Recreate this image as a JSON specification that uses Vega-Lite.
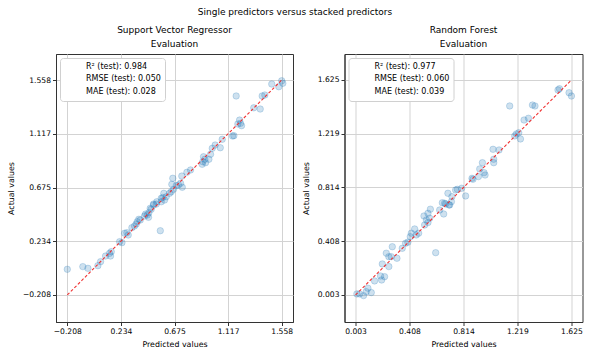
{
  "$schema": "https://vega.github.io/schema/vega-lite/v6.json",
  "padding": {"left": 6, "top": 8, "right": 5, "bottom": 3},
  "background": "white",
  "title": {"text": "Single predictors versus stacked predictors", "fontSize": 9, "font": "DejaVu Sans", "fontWeight": "normal", "color": "#000", "anchor": "middle", "frame": "bounds", "offset": 8},
  "config": {
    "font": "DejaVu Sans",
    "view": {"stroke": "#333", "strokeWidth": 1},
    "axis": {
      "labelFont": "DejaVu Sans", "labelFontSize": 7.6, "labelColor": "#000",
      "titleFont": "DejaVu Sans", "titleFontSize": 7.9, "titleFontWeight": "normal", "titleColor": "#000",
      "tickColor": "#333", "tickSize": 3.5, "labelPadding": 2,
      "domainColor": "#333", "gridColor": "#d3d3d3", "gridWidth": 1, "titlePadding": 5
    },
    "axisY": {"titlePadding": 7},
    "title": {"font": "DejaVu Sans", "fontSize": 9, "fontWeight": "normal", "color": "#000", "lineHeight": 14.5, "offset": 5}
  },
  "datasets": {
    "svr": [
      {"predicted": 1.558, "actual": 1.552}, {"predicted": 1.476, "actual": 1.525}, {"predicted": 1.534, "actual": 1.503}, {"predicted": 1.567, "actual": 1.531},
      {"predicted": 1.183, "actual": 1.427}, {"predicted": 1.397, "actual": 1.427}, {"predicted": 1.419, "actual": 1.435}, {"predicted": 1.328, "actual": 1.330},
      {"predicted": 1.381, "actual": 1.320}, {"predicted": 1.211, "actual": 1.229}, {"predicted": 1.219, "actual": 1.202}, {"predicted": 1.197, "actual": 1.197},
      {"predicted": 1.227, "actual": 1.183}, {"predicted": 1.153, "actual": 1.098}, {"predicted": 1.164, "actual": 1.101}, {"predicted": 1.068, "actual": 1.071},
      {"predicted": 1.010, "actual": 1.024}, {"predicted": 0.986, "actual": 0.997}, {"predicted": 1.052, "actual": 1.002}, {"predicted": 0.972, "actual": 0.948},
      {"predicted": 0.914, "actual": 0.928}, {"predicted": 0.925, "actual": 0.907}, {"predicted": 0.958, "actual": 0.907}, {"predicted": 0.908, "actual": 0.887},
      {"predicted": 0.903, "actual": 0.866}, {"predicted": 0.931, "actual": 0.879}, {"predicted": 0.807, "actual": 0.819}, {"predicted": 0.777, "actual": 0.800},
      {"predicted": 0.735, "actual": 0.769}, {"predicted": 0.661, "actual": 0.751}, {"predicted": 0.653, "actual": 0.701}, {"predicted": 0.708, "actual": 0.696},
      {"predicted": 0.725, "actual": 0.710}, {"predicted": 0.739, "actual": 0.677}, {"predicted": 0.689, "actual": 0.690}, {"predicted": 0.667, "actual": 0.660},
      {"predicted": 0.648, "actual": 0.640}, {"predicted": 0.634, "actual": 0.627}, {"predicted": 0.587, "actual": 0.627}, {"predicted": 0.607, "actual": 0.599},
      {"predicted": 0.566, "actual": 0.586}, {"predicted": 0.579, "actual": 0.594}, {"predicted": 0.530, "actual": 0.558}, {"predicted": 0.502, "actual": 0.539},
      {"predicted": 0.475, "actual": 0.504}, {"predicted": 0.593, "actual": 0.572}, {"predicted": 0.566, "actual": 0.558}, {"predicted": 0.525, "actual": 0.539},
      {"predicted": 0.502, "actual": 0.531}, {"predicted": 0.483, "actual": 0.496}, {"predicted": 0.464, "actual": 0.468}, {"predicted": 0.437, "actual": 0.457},
      {"predicted": 0.451, "actual": 0.449}, {"predicted": 0.428, "actual": 0.441}, {"predicted": 0.461, "actual": 0.430}, {"predicted": 0.381, "actual": 0.414},
      {"predicted": 0.368, "actual": 0.394}, {"predicted": 0.393, "actual": 0.408}, {"predicted": 0.360, "actual": 0.375}, {"predicted": 0.346, "actual": 0.359},
      {"predicted": 0.324, "actual": 0.345}, {"predicted": 0.283, "actual": 0.304}, {"predicted": 0.264, "actual": 0.299}, {"predicted": 0.294, "actual": 0.285},
      {"predicted": 0.558, "actual": 0.320}, {"predicted": 0.223, "actual": 0.230}, {"predicted": 0.242, "actual": 0.222}, {"predicted": 0.154, "actual": 0.148},
      {"predicted": 0.140, "actual": 0.134}, {"predicted": 0.148, "actual": 0.112}, {"predicted": 0.107, "actual": 0.112}, {"predicted": 0.066, "actual": 0.066},
      {"predicted": 0.044, "actual": 0.033}, {"predicted": -0.038, "actual": 0.011}, {"predicted": -0.080, "actual": 0.025}, {"predicted": -0.208, "actual": 0.003}
    ],
    "rf": [
      {"predicted": 1.524, "actual": 1.550}, {"predicted": 1.535, "actual": 1.559}, {"predicted": 1.607, "actual": 1.529}, {"predicted": 1.625, "actual": 1.504},
      {"predicted": 1.161, "actual": 1.429}, {"predicted": 1.332, "actual": 1.436}, {"predicted": 1.351, "actual": 1.429}, {"predicted": 1.269, "actual": 1.323},
      {"predicted": 1.302, "actual": 1.336}, {"predicted": 1.199, "actual": 1.203}, {"predicted": 1.211, "actual": 1.218}, {"predicted": 1.229, "actual": 1.227},
      {"predicted": 1.242, "actual": 1.180}, {"predicted": 1.036, "actual": 1.102}, {"predicted": 1.081, "actual": 1.097}, {"predicted": 1.041, "actual": 1.027},
      {"predicted": 1.041, "actual": 1.001}, {"predicted": 0.956, "actual": 1.001}, {"predicted": 0.936, "actual": 0.954}, {"predicted": 0.968, "actual": 0.926},
      {"predicted": 0.976, "actual": 0.908}, {"predicted": 0.926, "actual": 0.896}, {"predicted": 0.885, "actual": 0.876}, {"predicted": 0.878, "actual": 0.883},
      {"predicted": 0.800, "actual": 0.808}, {"predicted": 0.768, "actual": 0.800}, {"predicted": 0.755, "actual": 0.795}, {"predicted": 0.830, "actual": 0.750},
      {"predicted": 0.697, "actual": 0.770}, {"predicted": 0.727, "actual": 0.745}, {"predicted": 0.655, "actual": 0.699}, {"predicted": 0.680, "actual": 0.690},
      {"predicted": 0.710, "actual": 0.682}, {"predicted": 0.565, "actual": 0.650}, {"predicted": 0.723, "actual": 0.707}, {"predicted": 0.705, "actual": 0.682},
      {"predicted": 0.672, "actual": 0.695}, {"predicted": 0.665, "actual": 0.614}, {"predicted": 0.635, "actual": 0.644}, {"predicted": 0.547, "actual": 0.619},
      {"predicted": 0.560, "actual": 0.582}, {"predicted": 0.517, "actual": 0.599}, {"predicted": 0.535, "actual": 0.569}, {"predicted": 0.547, "actual": 0.549},
      {"predicted": 0.522, "actual": 0.531}, {"predicted": 0.447, "actual": 0.501}, {"predicted": 0.477, "actual": 0.469}, {"predicted": 0.459, "actual": 0.456},
      {"predicted": 0.422, "actual": 0.469}, {"predicted": 0.414, "actual": 0.443}, {"predicted": 0.396, "actual": 0.401}, {"predicted": 0.379, "actual": 0.393},
      {"predicted": 0.354, "actual": 0.355}, {"predicted": 0.279, "actual": 0.367}, {"predicted": 0.234, "actual": 0.318}, {"predicted": 0.253, "actual": 0.292},
      {"predicted": 0.271, "actual": 0.292}, {"predicted": 0.314, "actual": 0.280}, {"predicted": 0.605, "actual": 0.322}, {"predicted": 0.204, "actual": 0.237},
      {"predicted": 0.253, "actual": 0.217}, {"predicted": 0.191, "actual": 0.146}, {"predicted": 0.221, "actual": 0.141}, {"predicted": 0.199, "actual": 0.116},
      {"predicted": 0.146, "actual": 0.109}, {"predicted": 0.096, "actual": 0.054}, {"predicted": 0.121, "actual": 0.021}, {"predicted": 0.083, "actual": 0.028},
      {"predicted": 0.033, "actual": 0.011}, {"predicted": 0.063, "actual": -0.002}, {"predicted": 0.013, "actual": 0.011}
    ],
    "svr_line": [{"predicted": -0.208, "actual": -0.208}, {"predicted": 1.558, "actual": 1.558}],
    "rf_line": [{"predicted": 0.003, "actual": 0.003}, {"predicted": 1.625, "actual": 1.625}],
    "svr_stats": [{"label": "R² (test): 0.984"}, {"label": "RMSE (test): 0.050"}, {"label": "MAE (test): 0.028"}],
    "rf_stats": [{"label": "R² (test): 0.977"}, {"label": "RMSE (test): 0.060"}, {"label": "MAE (test): 0.039"}]
  },
  "spacing": 7.5,
  "resolve": {"scale": {"x": "independent", "y": "independent", "color": "independent"}, "legend": {"color": "independent"}},
  "hconcat": [
    {
      "width": 237, "height": 268,
      "title": {"text": ["Support Vector Regressor", "Evaluation"], "frame": "group", "anchor": "middle"},
      "layer": [
        {
          "data": {"name": "svr"},
          "mark": {"type": "point", "filled": true, "size": 42, "fill": "#1f77b4", "stroke": "#1f77b4", "strokeWidth": 1, "fillOpacity": 0.22, "strokeOpacity": 0.22},
          "encoding": {
            "x": {"field": "predicted", "type": "quantitative", "scale": {"domain": [-0.301, 1.651], "nice": false, "zero": false}, "axis": {"values": [-0.208, 0.234, 0.675, 1.117, 1.558], "format": ".3f", "title": "Predicted values"}},
            "y": {"field": "actual", "type": "quantitative", "scale": {"domain": [-0.43, 1.772], "nice": false, "zero": false}, "axis": {"values": [-0.208, 0.234, 0.675, 1.117, 1.558], "format": ".3f", "title": "Actual values"}}
          }
        },
        {
          "data": {"name": "svr_line"},
          "mark": {"type": "line", "color": "#f03232", "strokeDash": [3, 2], "strokeWidth": 1.1},
          "encoding": {
            "x": {"field": "predicted", "type": "quantitative", "title": "Predicted values"},
            "y": {"field": "actual", "type": "quantitative", "title": "Actual values"}
          }
        },
        {
          "data": {"name": "svr_stats"},
          "mark": {"type": "point", "opacity": 0},
          "encoding": {
            "color": {"field": "label", "type": "nominal", "sort": null, "title": null,
              "legend": {"orient": "top-left", "offset": 4, "padding": 4, "fillColor": "white", "strokeColor": "#d0d0d0", "cornerRadius": 3,
                "symbolOpacity": 0, "symbolStrokeWidth": 0, "symbolSize": 100, "labelOffset": 12, "rowPadding": 2.4,
                "labelFont": "DejaVu Sans", "labelFontSize": 8, "labelColor": "#000", "labelLimit": 200}}
          }
        }
      ]
    },
    {
      "width": 238, "height": 268,
      "title": {"text": ["Random Forest", "Evaluation"], "frame": "group", "anchor": "middle"},
      "layer": [
        {
          "data": {"name": "rf"},
          "mark": {"type": "point", "filled": true, "size": 42, "fill": "#1f77b4", "stroke": "#1f77b4", "strokeWidth": 1, "fillOpacity": 0.22, "strokeOpacity": 0.22},
          "encoding": {
            "x": {"field": "predicted", "type": "quantitative", "scale": {"domain": [-0.08, 1.708], "nice": false, "zero": false}, "axis": {"values": [0.003, 0.408, 0.814, 1.219, 1.625], "format": ".3f", "title": "Predicted values"}},
            "y": {"field": "actual", "type": "quantitative", "scale": {"domain": [-0.201, 1.821], "nice": false, "zero": false}, "axis": {"values": [0.003, 0.408, 0.814, 1.219, 1.625], "format": ".3f", "title": "Actual values"}}
          }
        },
        {
          "data": {"name": "rf_line"},
          "mark": {"type": "line", "color": "#f03232", "strokeDash": [3, 2], "strokeWidth": 1.1},
          "encoding": {
            "x": {"field": "predicted", "type": "quantitative", "title": "Predicted values"},
            "y": {"field": "actual", "type": "quantitative", "title": "Actual values"}
          }
        },
        {
          "data": {"name": "rf_stats"},
          "mark": {"type": "point", "opacity": 0},
          "encoding": {
            "color": {"field": "label", "type": "nominal", "sort": null, "title": null,
              "legend": {"orient": "top-left", "offset": 4, "padding": 4, "fillColor": "white", "strokeColor": "#d0d0d0", "cornerRadius": 3,
                "symbolOpacity": 0, "symbolStrokeWidth": 0, "symbolSize": 100, "labelOffset": 12, "rowPadding": 2.4,
                "labelFont": "DejaVu Sans", "labelFontSize": 8, "labelColor": "#000", "labelLimit": 200}}
          }
        }
      ]
    }
  ]
}
